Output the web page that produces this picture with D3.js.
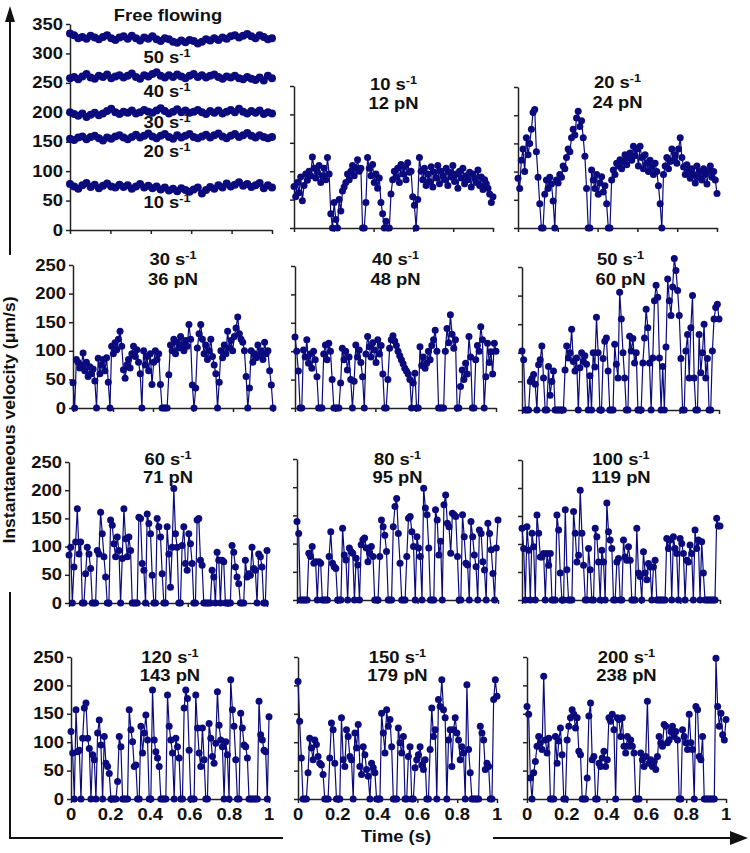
<!DOCTYPE html>
<html>
<head>
<meta charset="utf-8">
<script src="https://cdn.jsdelivr.net/npm/d3@7"></script>
<style>
  body { margin: 0; background: #fff; }
  text { font-family: "Liberation Sans", Arial, sans-serif; font-weight: bold; fill: #111; }
  .axis path, .axis line { stroke: #222; stroke-width: 1.5; }
</style>
</head>
<body>
<svg id="chart" width="750" height="853"></svg>
<script>
// ---- data ----
// free flowing traces (velocity, um/s), one per shear rate
const freeShear = ["50", "40", "30", "20", "10"];
const free50 = [334,331,326,328,325,330,327,324,328,331,326,323,327,329,325,330,326,322,327,325,329,324,321,326,324,320,318,322,319,323,321,317,320,324,322,326,323,327,325,329,331,327,330,333,329,326,331,328,324,326];
const free40 = [258,260,256,261,265,259,257,262,260,264,258,261,263,259,262,266,260,257,263,261,265,268,262,259,263,260,264,261,258,262,265,260,263,259,262,264,260,257,261,259,262,258,256,260,257,255,259,254,262,258];
const free30 = [200,197,194,198,192,196,199,195,198,202,206,200,197,201,199,203,198,200,204,201,199,203,207,202,198,201,205,200,203,199,201,204,200,197,202,199,203,198,201,204,200,206,201,198,202,199,203,197,200,198];
const free20 = [155,153,157,159,154,158,160,156,152,157,155,159,161,157,154,158,162,157,160,164,159,156,160,163,158,155,161,157,160,163,158,156,159,162,157,161,164,159,156,160,163,158,161,165,160,157,161,158,156,158];
const free10 = [78,74,70,76,80,73,77,71,75,79,74,72,77,73,76,70,74,78,72,75,71,74,69,72,67,70,66,71,68,65,69,72,62,68,73,70,76,72,79,74,77,81,75,78,73,76,80,71,76,72];

// shear rate (s-1) and force (pN) of each bound panel
const shearRates = [10, 20, 30, 40, 50, 60, 80, 100, 120, 150, 200];
const forces = [12, 24, 36, 48, 60, 71, 95, 119, 143, 179, 238];

const trace10 = [73,55,80,62,90,48,75,95,84,100, 92,125,105,88,98,110,80,92,105,85, 124,95,25,0,45,15,0,50,30,65,
  72,80,95,85,100,110,92,105,120,100, 105,0,0,45,124,105,92,112,80,95, 70,88,45,25,0,12,0,0,60,85,
  100,90,105,80,112,95,108,85,115,98, 100,55,40,0,50,124,100,85,105,75, 95,82,108,72,98,88,110,78,100,92,
  85,105,75,98,90,110,82,95,70,100, 88,105,78,92,85,98,72,95,88,80, 102,75,90,68,85,78,70,60,45,55];
const trace20 = [88,70,120,140,100,160,130,150,175,205, 210,135,90,43,0,0,60,85,70,90, 78,48,0,85,80,95,90,110,105,125,
  140,135,160,175,165,195,207,180,190,160, 127,70,0,0,103,85,70,95,60,80, 91,64,75,43,0,0,85,103,95,115,
  110,121,105,118,130,112,125,133,120,145, 128,140,110,145,125,105,130,115,100,120, 108,95,115,100,75,43,0,95,110,125,
  105,118,140,120,130,115,140,160,125,108, 95,112,100,88,105,95,80,110,90,100, 85,105,95,78,100,110,90,100,85,61];
const trace30 = [44,0,85,80,70,75,96,65,80,55, 72,60,68,47,0,87,60,75,85,65, 88,45,0,108,95,114,102,120,134,108,
  67,52,75,85,70,95,108,90,102,80, 60,0,100,75,90,65,95,41,80,100, 85,95,41,0,0,0,0,58,110,100,
  120,95,115,105,125,110,100,118,108,146, 120,40,0,35,105,130,146,120,95,110, 85,100,120,90,75,60,0,45,100,88,
  110,95,134,105,118,100,125,140,159,130, 120,115,100,55,0,35,100,80,95,88, 110,92,100,85,115,95,100,65,40,0];
const trace40 = [125,100,65,0,0,102,90,120,79,95, 70,100,85,55,0,0,0,95,111,85, 114,100,50,0,0,0,0,44,105,85,
  100,67,90,50,0,47,111,90,102,80, 55,0,95,126,108,90,115,102,80,120, 95,110,60,0,0,50,105,120,127,118,
  110,100,92,85,78,70,65,60,50,0, 44,61,0,0,108,75,90,70,79,100, 85,110,120,137,100,0,0,0,0,100,
  140,115,164,130,105,120,0,0,38,67, 50,79,60,126,90,0,0,85,110,100, 143,120,0,55,114,80,99,60,114,100];
const trace50 = [103,88,0,0,0,50,55,62,45,0, 79,88,112,56,0,0,76,26,50,68, 0,0,0,0,0,0,70,112,91,100,
  141,85,68,91,0,74,100,85,95,80, 0,60,0,100,75,162,100,0,0,90, 120,126,68,0,0,0,115,80,56,206,
  159,100,56,0,0,129,103,125,82,100, 0,0,0,82,126,176,144,82,0,91, 191,218,197,91,0,76,0,110,229,191,
  165,215,265,244,209,165,90,0,0,103, 132,56,144,200,56,0,0,132,65,100, 150,56,90,0,0,103,159,179,185,159];
const trace60 = [85,99,0,64,108,167,87,108,0,0, 52,99,87,61,0,0,0,93,87,161, 123,82,46,0,0,147,138,105,82,117,
  93,0,79,167,114,82,117,93,0,0, 0,0,152,150,70,58,0,158,141,123, 49,0,0,150,135,117,52,0,0,135,
  87,28,99,203,123,99,0,0,102,135, 70,58,123,105,70,0,0,147,150,76, 67,0,0,0,0,0,58,46,0,90,
  76,0,76,73,0,0,0,0,102,90, 64,46,34,0,0,0,76,46,52,49, 99,61,58,0,87,82,64,0,0,93];
const trace80 = [139,118,0,0,0,0,0,83,77,95, 65,68,0,68,65,0,0,0,0,77, 121,65,59,56,0,0,0,127,80,71,
  0,92,86,83,0,74,62,0,98,107, 110,92,68,83,95,77,0,0,0,77, 142,130,115,86,0,0,0,130,166,180,
  118,65,0,0,0,77,145,148,121,95, 0,112,92,77,0,198,163,151,92,0, 0,0,160,142,80,104,0,169,186,136,
  130,83,154,151,148,77,0,0,151,112, 65,62,0,139,112,80,59,0,124,118, 68,53,0,136,118,89,47,0,92,142];
const trace100 = [128,92,0,131,89,0,119,95,0,152, 119,77,77,83,0,83,62,83,0,0, 0,152,125,48,0,0,161,54,0,0,
  0,158,119,68,80,196,119,62,0,0, 92,54,0,0,128,113,68,0,89,68, 0,173,122,107,92,0,0,68,74,0,
  0,107,77,71,95,71,0,0,0,128, 48,42,0,86,48,36,65,59,0,59, 71,0,0,0,0,0,0,110,92,107,
  0,113,92,83,0,110,101,83,0,71, 68,98,83,0,125,92,107,0,104,48, 0,0,0,0,0,0,0,146,132,132];
const trace120 = [119,81,0,157,83,86,0,107,160,169, 107,89,0,78,69,0,116,139,95,0, 110,63,57,45,0,0,0,0,31,110,
  92,0,0,0,0,157,122,101,57,60, 0,0,128,81,116,148,104,0,0,192, 104,83,72,57,0,0,0,0,183,128,
  104,81,0,107,92,72,0,0,160,192, 177,86,0,0,0,183,125,81,57,125, 69,0,0,133,107,75,63,98,189,130,
  104,92,0,101,78,0,210,157,128,69, 0,0,151,125,95,92,72,0,0,0, 0,0,0,172,113,104,86,83,0,145];
const trace150 = [207,137,72,0,0,0,46,107,90,69, 104,96,75,63,60,43,0,0,0,72, 134,122,63,0,0,0,143,69,57,122,
  110,75,69,0,116,90,131,57,43,92, 78,52,40,0,63,55,46,0,0,0, 151,116,81,157,128,140,92,0,0,0,
  125,99,81,110,0,0,75,92,0,0, 55,69,78,92,60,52,69,0,0,87, 160,110,122,0,175,163,210,157,143,0,
  104,122,57,122,143,116,104,69,92,81, 0,201,87,46,0,0,0,0,0,128, 116,104,52,63,57,0,0,175,210,181];
const trace200 = [163,149,37,0,46,66,93,110,99,87, 216,104,81,107,0,0,0,110,63,102, 125,78,0,0,104,128,143,157,149,125,
  143,84,78,0,0,0,37,146,169,69, 75,0,0,63,57,72,84,57,69,143, 137,149,122,0,143,140,110,143,93,81,
  110,93,104,93,81,0,0,0,81,69, 57,75,172,63,69,57,66,52,75,110, 99,93,131,128,99,104,119,128,110,119,
  104,0,0,122,110,99,87,149,99,87, 0,163,157,75,69,110,0,0,0,0, 0,0,0,248,163,128,151,113,104,140];

const freeTraces = [free50, free40, free30, free20, free10];
const boundTraces = [trace10, trace20, trace30, trace40, trace50, trace60, trace80, trace100, trace120, trace150, trace200];

const timeTicks = [0, 0.2, 0.4, 0.6, 0.8, 1];
const freeVelTicks = [0, 50, 100, 150, 200, 250, 300, 350];
const velTicks = [0, 50, 100, 150, 200, 250];

// ---- layout ----
// panel boxes: x0/x1 = time 0..1, y0 = velocity 0, yTop = top tick
const boxes = [
  {x0: 70, x1: 272, y0: 230, yTop: 24},
  {x0: 294, x1: 493, y0: 228, yTop: 86},
  {x0: 518, x1: 717, y0: 228, yTop: 87},
  {x0: 73, x1: 273, y0: 408, yTop: 265},
  {x0: 295, x1: 496, y0: 408, yTop: 266},
  {x0: 522, x1: 719, y0: 410, yTop: 267},
  {x0: 69, x1: 267, y0: 603, yTop: 462},
  {x0: 297, x1: 498, y0: 600, yTop: 459},
  {x0: 522, x1: 720, y0: 600, yTop: 460},
  {x0: 71, x1: 269, y0: 799, yTop: 657},
  {x0: 298, x1: 497, y0: 799, yTop: 657},
  {x0: 527, x1: 726, y0: 799, yTop: 657}
];
const titleY = [[90, 109], [265, 285], [465, 483], [663, 681]];
const freeLabelY = [63, 97, 128, 157, 208];

const navy = "#0b0b7e";
const stretch = 1.15;
const svg = d3.select("#chart");

function label(g, x, y, txt, sup, anchor) {
  const t = g.append("text")
    .attr("transform", `translate(${x},${y}) scale(${stretch},1)`)
    .attr("text-anchor", anchor || "middle")
    .style("font-size", "16px");
  t.append("tspan").text(txt);
  if (sup) t.append("tspan").attr("dy", -6).style("font-size", "11px").text(sup);
  return t;
}

function drawTrace(g, x, y, values, r) {
  const n = values.length;
  const line = d3.line().x((d, i) => x(i / (n - 1))).y(d => y(d));
  g.append("path").datum(values)
    .attr("d", line).attr("fill", "none")
    .attr("stroke", navy).attr("stroke-width", 1.2);
  g.append("g").selectAll("circle").data(values).join("circle")
    .attr("cx", (d, i) => x(i / (n - 1)))
    .attr("cy", d => y(d))
    .attr("r", r)
    .attr("fill", navy);
}

boxes.forEach(function(b, k) {
  const row = Math.floor(k / 3), col = k % 3;
  const isFree = k === 0;
  const ticks = isFree ? freeVelTicks : velTicks;
  const x = d3.scaleLinear().domain([0, 1]).range([b.x0, b.x1]);
  const y = d3.scaleLinear().domain([0, ticks[ticks.length - 1]]).range([b.y0, b.yTop]);
  const g = svg.append("g");

  g.append("g").attr("class", "axis")
    .attr("transform", `translate(${b.x0},0)`)
    .call(d3.axisLeft(y).tickValues(ticks).tickSize(4).tickSizeOuter(0).tickFormat(""));
  g.append("g").attr("class", "axis")
    .attr("transform", `translate(0,${b.y0})`)
    .call(d3.axisBottom(x).tickValues(timeTicks).tickSize(4).tickSizeOuter(0).tickFormat(""));

  if (col === 0) {
    ticks.forEach(v => label(g, b.x0 - 7, y(v) + 5.5, String(v), null, "end"));
  }
  if (row === 3) {
    timeTicks.forEach(t => label(g, x(t), 820, String(t)));
  }

  if (isFree) {
    freeTraces.forEach(tr => drawTrace(g, x, y, tr, 4));
    label(g, 168, 21, "Free flowing");
    freeShear.forEach((s, i) => label(g, 167, freeLabelY[i], s + " s", "-1"));
  } else {
    const j = k - 1;
    drawTrace(g, x, y, boundTraces[j], 3.5);
    const cx = (b.x0 + b.x1) / 2;
    label(g, cx, titleY[row][0] - (row === 0 && col === 2 ? 2 : 0), shearRates[j] + " s", "-1");
    label(g, cx, titleY[row][1] - (row === 0 && col === 2 ? 1 : 0), forces[j] + " pN");
  }
});

// axis titles
svg.append("text")
  .attr("transform", "translate(15,420) rotate(-90) scale(1.1,1)")
  .attr("text-anchor", "middle")
  .style("font-size", "16px")
  .text("Instantaneous velocity (\u03bcm/s)");
label(svg, 396, 842, "Time (s)");

// guide arrows
const ink = "#111";
svg.append("path").attr("d", "M10,255 V18").attr("stroke", ink).attr("stroke-width", 2).attr("fill", "none");
svg.append("path").attr("d", "M10,6 L5,22 L15,22 Z").attr("fill", ink);
svg.append("path").attr("d", "M10,592 V838 H283").attr("stroke", ink).attr("stroke-width", 2).attr("fill", "none");
svg.append("path").attr("d", "M493,838 H736").attr("stroke", ink).attr("stroke-width", 2).attr("fill", "none");
svg.append("path").attr("d", "M748,838 L730,831 L730,845 Z").attr("fill", ink);
</script>
</body>
</html>
